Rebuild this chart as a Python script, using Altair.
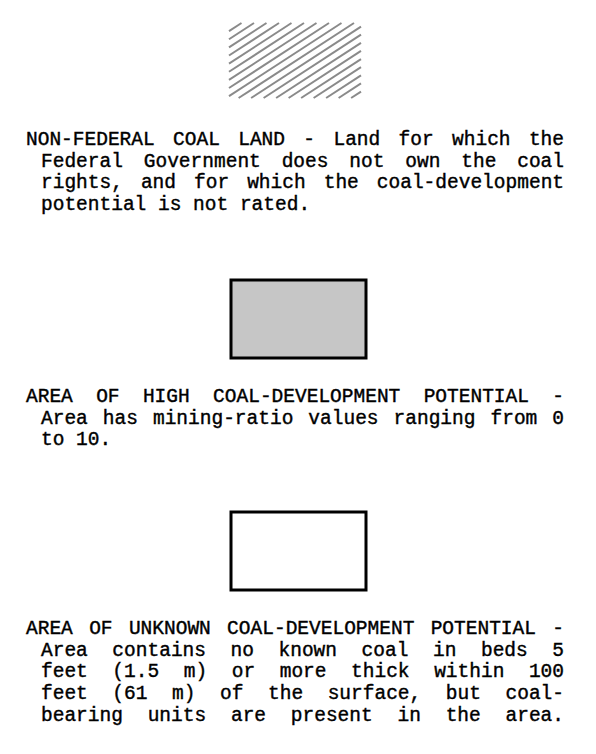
import altair as alt
import pandas as pd

# ---- text content ----
block1 = ["NON-FEDERAL COAL LAND - Land for which the",
          "Federal Government does not own the coal",
          "rights, and for which the coal-development",
          "potential is not rated."]
block2 = ["AREA OF HIGH COAL-DEVELOPMENT POTENTIAL -",
          "Area has mining-ratio values ranging from 0",
          "to 10."]
block3 = ["AREA OF UNKNOWN COAL-DEVELOPMENT POTENTIAL -",
          "Area contains no known coal in beds 5",
          "feet (1.5 m) or more thick within 100",
          "feet (61 m) of the surface, but coal-",
          "bearing units are present in the area."]
justify1 = [True, True, True, False]
justify2 = [True, True, False]
justify3 = [True, True, True, True, True]

# ---- layout (page pixels) ----
W, H = 580, 738
M = 8
FONT = "Liberation Mono"
FS = 19.5
ADV = FS * 0.6
LEFT_FIRST = 26
LEFT_INDENT = 41
RIGHT = 564
block_tops = [139, 396, 628]
LINE_H = 21.7

def layout(lines, flags, top):
    rows = []
    for i, (line, j) in enumerate(zip(lines, flags)):
        left = LEFT_FIRST if i == 0 else LEFT_INDENT
        words = line.split(" ")
        natural = len(line) * ADV
        gap = ADV
        if j and len(words) > 1:
            gap = ADV + (RIGHT - left - natural) / (len(words) - 1)
        x = left
        for w in words:
            rows.append({"x": x, "y": top + i * LINE_H, "t": w})
            x += len(w) * ADV + gap
    return rows

words = []
for lines, flags, top in zip([block1, block2, block3], [justify1, justify2, justify3], block_tops):
    words += layout(lines, flags, top)
words_df = pd.DataFrame(words)

boxes = pd.DataFrame([
    {"x": 231, "x2": 366, "y": 280, "y2": 358, "fill": "#c6c6c6"},
    {"x": 231, "x2": 366, "y": 512, "y2": 590, "fill": "#ffffff"},
])

# hatch pattern geometry
hx0, hx1, hy0, hy1 = 229, 361, 23, 98
m = 0.65
step = 12.5
segs = []
c = hx0 - (hy1 - hy0) / m
while c < hx1:
    xa = max(hx0, c)
    xb = min(hx1, c + (hy1 - hy0) / m)
    if xb - xa > 1:
        segs.append({"x": xa, "y": hy1 - m * (xa - c),
                     "x2": xb, "y2": hy1 - m * (xb - c)})
    c += step
hatch_df = pd.DataFrame(segs)

xs = alt.Scale(domain=[M, M + W], range=[0, W])
ys = alt.Scale(domain=[M, M + H], range=[0, H])

hatch = alt.Chart(hatch_df).mark_rule(color="#8a8a8a", strokeWidth=2, strokeCap="butt").encode(
    x=alt.X("x:Q", scale=xs, axis=None),
    y=alt.Y("y:Q", scale=ys, axis=None),
    x2="x2:Q", y2="y2:Q")

rects = alt.Chart(boxes).mark_rect(stroke="black", strokeWidth=3).encode(
    x=alt.X("x:Q", scale=xs, axis=None), x2="x2:Q",
    y=alt.Y("y:Q", scale=ys, axis=None), y2="y2:Q",
    fill=alt.Fill("fill:N", scale=None))

text = alt.Chart(words_df).mark_text(font=FONT, fontSize=FS, align="left",
                                     baseline="middle", color="black",
                                     stroke="black", strokeWidth=0.4).encode(
    x=alt.X("x:Q", scale=xs, axis=None),
    y=alt.Y("y:Q", scale=ys, axis=None),
    text="t:N")

chart = alt.layer(hatch, rects, text).properties(
    width=W, height=H, padding=0, background="white"
).configure_view(stroke=None)

chart.save("out.html", embed_options={"renderer": "svg", "actions": False})
